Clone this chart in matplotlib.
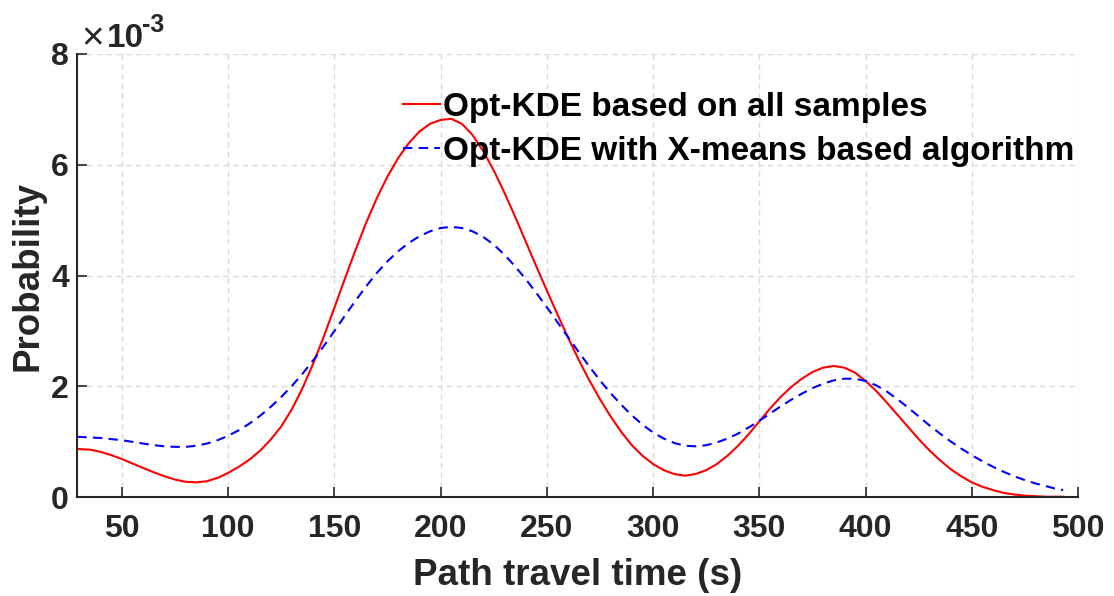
import numpy as np
import matplotlib
matplotlib.use("Agg")
import matplotlib.pyplot as plt

# Path travel time samples (s)
travel_time = [29] + list(range(30, 495, 5)) + [493]

# Opt-KDE on all samples (probability, in units of 1e-3)
kde_all = [
    0.87,
    0.87, 0.86, 0.82, 0.76, 0.69, 0.61, 0.53, 0.45, 0.38, 0.32,   # 30-75
    0.28, 0.27, 0.29, 0.35, 0.44, 0.55, 0.68, 0.84, 1.04, 1.28,   # 80-125
    1.59, 1.97, 2.41, 2.90, 3.42, 3.95, 4.47, 4.96, 5.40, 5.79,   # 130-175
    6.12, 6.39, 6.60, 6.74, 6.81, 6.83, 6.74, 6.54, 6.25, 5.90,   # 180-225
    5.50, 5.07, 4.62, 4.17, 3.73, 3.30, 2.88, 2.48, 2.11, 1.77,   # 230-275
    1.46, 1.18, 0.94, 0.75, 0.60, 0.49, 0.42, 0.39, 0.42, 0.49,   # 280-325
    0.60, 0.75, 0.93, 1.14, 1.37, 1.60, 1.81, 1.99, 2.14, 2.26,   # 330-375
    2.34, 2.37, 2.34, 2.25, 2.10, 1.92, 1.71, 1.49, 1.27, 1.05,   # 380-425
    0.85, 0.67, 0.51, 0.38, 0.27, 0.19, 0.13, 0.08, 0.05, 0.03,   # 430-475
    0.02, 0.01, 0.01,                                             # 480-490
    0.01,
]

# Opt-KDE with X-means based algorithm (probability, in units of 1e-3)
kde_xmeans = [
    1.09,
    1.09, 1.08, 1.07, 1.05, 1.03, 1.00, 0.97, 0.94, 0.92, 0.91,   # 30-75
    0.91, 0.93, 0.97, 1.03, 1.11, 1.21, 1.33, 1.47, 1.63, 1.81,   # 80-125
    2.01, 2.23, 2.47, 2.73, 3.00, 3.28, 3.55, 3.81, 4.05, 4.26,   # 130-175
    4.44, 4.59, 4.71, 4.80, 4.86, 4.88, 4.86, 4.80, 4.70, 4.56,   # 180-225
    4.38, 4.17, 3.94, 3.69, 3.43, 3.16, 2.89, 2.62, 2.36, 2.11,   # 230-275
    1.88, 1.67, 1.48, 1.31, 1.17, 1.06, 0.98, 0.93, 0.92, 0.94,   # 280-325
    0.99, 1.06, 1.15, 1.26, 1.38, 1.51, 1.64, 1.76, 1.87, 1.97,   # 330-375
    2.05, 2.11, 2.14, 2.14, 2.10, 2.02, 1.91, 1.77, 1.62, 1.46,   # 380-425
    1.30, 1.15, 1.01, 0.88, 0.76, 0.65, 0.55, 0.46, 0.38, 0.31,   # 430-475
    0.25, 0.20, 0.15,                                             # 480-490
    0.13,
]

x_ticks = [50, 100, 150, 200, 250, 300, 350, 400, 450, 500]
y_ticks = [0, 2, 4, 6, 8]
labels = ["Opt-KDE based on all samples", "Opt-KDE with X-means based algorithm"]

plt.rcParams["font.family"] = ["Liberation Sans", "DejaVu Sans"]
dark = "#262626"

fig = plt.figure(figsize=(11.14, 5.96), dpi=100)
ax = fig.add_axes([0.0694, 0.1656, 0.8983, 0.7438])

ax.plot(travel_time, kde_all, color="red", lw=1.5, label=labels[0])
ax.plot(travel_time, kde_xmeans, color="blue", lw=1.5, dashes=(4.5, 3),
        label=labels[1])

ax.set_xlim(29, 500)
ax.set_ylim(0, 8)
ax.set_xticks(x_ticks)
ax.set_yticks(y_ticks)

ax.grid(True, color="#d9d9d9", linestyle=(0, (4, 3)), lw=1.0)
ax.set_axisbelow(True)

for side in ("top", "right"):
    ax.spines[side].set_visible(False)
for side in ("left", "bottom"):
    ax.spines[side].set_color(dark)
    ax.spines[side].set_linewidth(1.5)

ax.tick_params(direction="in", length=7, width=1.2, color=dark,
               labelsize=23, labelcolor=dark)
ax.tick_params(axis="x", pad=12)
ax.tick_params(axis="y", pad=6)
for lab in ax.get_xticklabels() + ax.get_yticklabels():
    lab.set_fontweight("bold")

ax.set_xlabel("Path travel time (s)", fontsize=26.5, fontweight="bold",
              color=dark, labelpad=10)
ax.set_ylabel("Probability", fontsize=26.5, fontweight="bold",
              color=dark, labelpad=4)

# Scale factor shown above the y axis
ax.text(0.004, 1.011, "\u00d7", transform=ax.transAxes, fontsize=28,
        color=dark, ha="left", va="baseline")
ax.text(0.030, 1.016, "10", transform=ax.transAxes, fontsize=24,
        fontweight="bold", color=dark, ha="left", va="baseline")
ax.text(0.065, 1.050, "-3", transform=ax.transAxes, fontsize=18,
        fontweight="bold", color=dark, ha="left", va="baseline")

leg = ax.legend(loc="upper left", bbox_to_anchor=(0.3255, 0.914),
                frameon=False, fontsize=24, handlelength=1.1,
                handletextpad=0.1, labelspacing=0.38, borderaxespad=0,
                borderpad=0)
for t in leg.get_texts():
    t.set_fontweight("bold")

fig.savefig("out.png", dpi=100)
